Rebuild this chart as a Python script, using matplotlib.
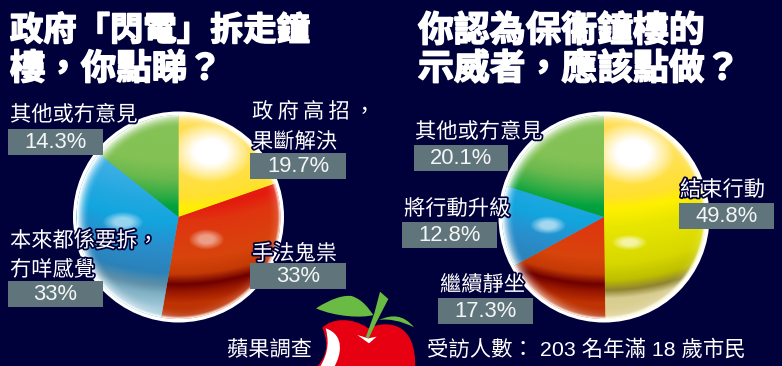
import numpy as np
import matplotlib
matplotlib.use("Agg")
import matplotlib.pyplot as plt
import matplotlib.patheffects as pe
from matplotlib.colors import to_rgb
from matplotlib.patches import Circle, PathPatch, Rectangle, Polygon
from matplotlib.path import Path

plt.rcParams['font.family'] = ['Noto Sans CJK TC', 'DejaVu Sans']

BG = '#00003a'
BOX = '#5f747b'

values_left = [19.7, 33, 33, 14.3]
values_right = [49.8, 17.3, 12.8, 20.1]
pct_left = ['19.7%', '33%', '33%', '14.3%']
pct_right = ['49.8%', '17.3%', '12.8%', '20.1%']

RAMPS = {
    'yellow': [(-1, '#ffdc50'), (-.45, '#ffe050'), (-.2, '#ffe030'), (-.08, '#fff000'),
               (.1, '#e8e600'), (.45, '#d8d800'), (.62, '#bfbf00'), (.72, '#8f8430'),
               (.8, '#d8cc90'), (1, '#e0d498')],
    'red': [(-1, '#e8200f'), (-.22, '#e8200f'), (-.1, '#e41a0f'), (.05, '#e03510'),
            (.4, '#d8440c'), (.56, '#c43a05'), (.66, '#6e0000'), (.74, '#9a1800'),
            (.85, '#c03404'), (1, '#b83000')],
    'blue': [(-1, '#60bdea'), (-.45, '#40b0e6'), (-.15, '#22a8e0'), (.05, '#12a5de'),
             (.3, '#2a8ecc'), (.55, '#2a82ba'), (.68, '#5f90a8'), (.76, '#7fb0c4'),
             (.9, '#a4cadb'), (1, '#a4cadb')],
    'green': [(-1, '#86c257'), (-.55, '#84c255'), (-.38, '#6cb94e'), (-.22, '#35ad45'),
              (-.1, '#00a23f'), (0, '#059a3e'), (1, '#059a3e')],
}
COLORS = ['yellow', 'red', 'blue', 'green']


def shade(name, X, Y, spots):
    pos = [p for p, _ in RAMPS[name]]
    cols = np.array([to_rgb(c) for _, c in RAMPS[name]])
    yw = np.clip(Y + 0.2 * X ** 2, -1, 1)
    rgb = np.stack([np.interp(yw, pos, cols[:, i]) for i in range(3)], axis=-1)
    rho = np.hypot(X, Y)
    side = 0.25 + 0.75 * np.clip(0.35 - 0.75 * X - 0.3 * Y, 0, 1)
    rim = np.clip((rho - 0.88) / 0.12, 0, 1) ** 1.8 * side
    rim = np.maximum(rim, np.clip((rho - 0.965) / 0.035, 0, 1))
    for sx, sy, ax_, ay_, strength in spots:
        d = np.hypot((X - sx) / ax_, (Y - sy) / ay_)
        rim = np.maximum(rim, strength * np.clip((1.25 - d) / 0.75, 0, 1) ** 0.9)
    return np.clip(rgb + (1 - rgb) * rim[..., None], 0, 1)


def sphere_pie(ax, values, cx, cy, r, spots):
    ax.add_patch(Circle((cx, cy), r + 3.5, fc='white', ec='none', zorder=1))
    wedges, _ = ax.pie(values, center=(cx, cy), radius=r, startangle=-90,
                       counterclock=True,
                       wedgeprops=dict(lw=0, zorder=2))
    n = 420
    xs = np.linspace(-1, 1, n)
    X, Y = np.meshgrid(xs, xs)
    for w, name in zip(wedges, COLORS):
        w.set_facecolor(RAMPS[name][3][1])
        img = shade(name, X, Y, spots.get(name, []))
        im = ax.imshow(img, extent=(cx - r, cx + r, cy + r, cy - r),
                       origin='upper', zorder=3, interpolation='bilinear', aspect='equal')
        im.set_clip_path(w)


fig = plt.figure(figsize=(7.82, 3.66), dpi=100, facecolor=BG)
ax = fig.add_axes([0, 0, 1, 1], facecolor=BG)

sphere_pie(ax, values_left, 178.5, 217, 102,
           {'yellow': [(.31, -.64, .32, .24, 1.0)],
            'blue': [(-.55, .05, .16, .08, .55)],
            'red': [(.27, .22, .14, .08, .5)]})
sphere_pie(ax, values_right, 604, 217, 102,
           {'yellow': [(.29, -.63, .33, .25, 1.0), (.25, .25, .14, .06, .65)],
            'blue': [(-.55, .08, .14, .07, .6)]})

ax.set_xlim(0, 782)
ax.set_ylim(366, 0)
ax.set_aspect('equal')
ax.axis('off')


def stroke(w=2.5):
    return [pe.withStroke(linewidth=w, foreground=BG)]


def label(x, y, s, size=15.3, **kw):
    ax.text(x, y + 2, s, color='white', fontsize=size, ha='left', va='center',
            path_effects=stroke(), zorder=6, **kw)


def box(x0, x1, y0, y1, s):
    ax.add_patch(Rectangle((x0, y0), x1 - x0, y1 - y0, fc=BOX, ec='none', zorder=7))
    ax.text((x0 + x1) / 2, (y0 + y1) / 2 + .5, s, color='#f4f6f6', fontsize=15.8,
            family='Liberation Sans', ha='center', va='center', zorder=8)


def title(x, y, s, size):
    ax.text(x, y, s, color='white', fontsize=size, fontweight='bold', ha='left', va='center',
            path_effects=[pe.withStroke(linewidth=1.1, foreground='white')], zorder=6)


# titles
title(10, 31, '政府「閃電」拆走鐘', 24)
title(10, 69, '樓，你點睇？', 25.5)
title(418, 31, '你認為保衞鐘樓的', 25.8)
title(418, 69, '示威者，應該點做？', 25.8)

# left pie labels
label(10, 113, '其他或冇意見')
box(8, 103, 129, 155, pct_left[3])
label(252, 110, '政\u2009府\u2009高\u2009招\u2009，')
label(252, 140, '果斷解決')
box(250, 346, 153, 179, pct_left[0])
label(252, 252, '手法鬼祟')
box(250, 346, 263, 289, pct_left[1])
label(10, 239, '本來都係要拆，')
label(10, 268, '冇咩感覺')
box(8, 103, 281, 307, pct_left[2])

# right pie labels
label(415, 130, '其他或冇意見')
box(414, 508, 145, 171, pct_right[3])
label(404, 207, '將行動升級')
box(402, 497, 222, 248, pct_right[2])
label(440, 283, '繼續靜坐')
box(438, 533, 298, 324, pct_right[1])
label(680, 188, '結束行動')
box(679, 774, 203, 229, pct_right[0])

# footer
label(227, 348, '蘋果調查')
ax.text(427, 349, '受訪人數： 203 名年滿 18 歲市民', color='white', fontsize=15.4,
        family=['Liberation Sans', 'Noto Sans CJK TC'], va='center', zorder=6)


# apple logo (zoomed pixel coordinates mapped back)
def z(pts):
    return [(305 + a / 3, 285 + b / 3) for a, b in pts]


M, L, C, Z = Path.MOVETO, Path.LINETO, Path.CURVE4, Path.CLOSEPOLY
body = z([(52, 128), (80, 100), (140, 95), (190, 130), (230, 110), (340, 95), (330, 260),
          (330, 280), (40, 280), (38, 243), (75, 200), (65, 160), (52, 128), (52, 128)])
ax.add_patch(PathPatch(Path(body, [M, C, C, C, C, C, C, L, L, L, C, C, C, Z]),
                       fc='#e60012', ec='none', zorder=5))
bite = z([(62, 130), (120, 150), (110, 210), (85, 250), (42, 250), (75, 200), (70, 160), (62, 130), (62, 130)])
ax.add_patch(PathPatch(Path(bite, [M, C, C, C, L, C, C, C, Z]), fc='white', ec='none', zorder=5.1))
ax.add_patch(Polygon(z([(157, 150), (190, 160), (215, 155), (192, 175)]), fc='white', ec='none', zorder=5.2))
GREEN = '#6abb44'
leaf = z([(33, 70), (80, 40), (115, 30), (140, 33), (175, 45), (190, 70), (205, 90),
          (170, 100), (90, 95), (33, 70), (33, 70)])
ax.add_patch(PathPatch(Path(leaf, [M, C, C, C, C, C, C, C, C, C, Z]), fc=GREEN, ec='none', zorder=5.3))
leaf2 = z([(222, 105), (260, 88), (295, 88), (327, 127), (290, 108), (250, 100), (222, 105), (222, 105)])
ax.add_patch(PathPatch(Path(leaf2, [M, C, C, C, C, C, C, Z]), fc=GREEN, ec='none', zorder=5.3))
ax.add_patch(Polygon(z([(225, 20), (250, 42), (215, 110), (190, 162), (183, 155), (208, 85)]),
                     fc=GREEN, ec='none', zorder=5.4))

fig.savefig('out.png', dpi=100, facecolor=BG)
